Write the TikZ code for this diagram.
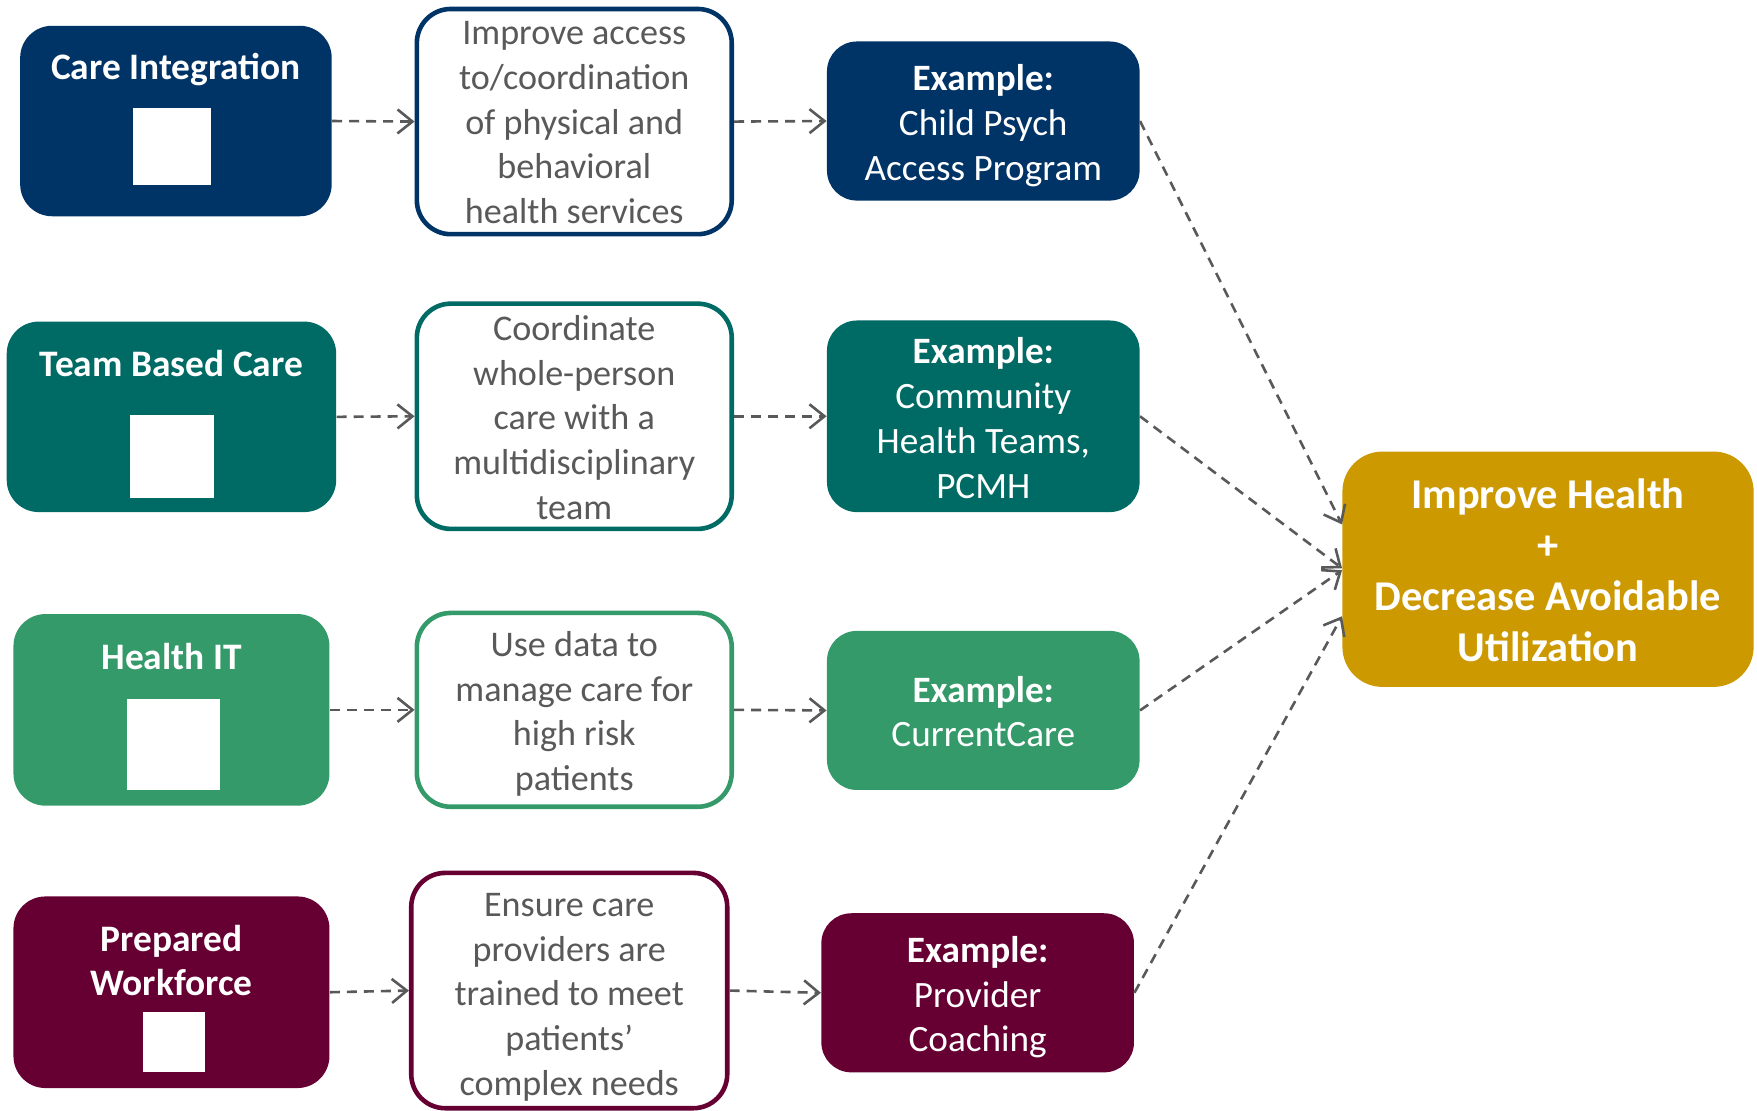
\documentclass[tikz,border=0pt]{standalone}
\usepackage{fontspec}
\setmainfont{Carlito}
\usetikzlibrary{arrows.meta,calc}
\definecolor{navy}{HTML}{003366}
\definecolor{tealc}{HTML}{006A64}
\definecolor{greenc}{HTML}{359A69}
\definecolor{maroonc}{HTML}{660033}
\definecolor{goldc}{HTML}{CC9900}
\definecolor{arrowgray}{HTML}{595959}
\definecolor{textgray}{HTML}{595959}
\def\pxu{0.56025pt}
\begin{document}
\begin{tikzpicture}[x=0.56025pt,y=-0.56025pt,
  catbox/.style={rounded corners=16pt, inner sep=0pt, draw=none},
  cattitle/.style={text=white, align=center, inner sep=0pt, font=\bfseries\fontsize{18.7}{21.9}\selectfont},
  sq/.style={fill=white, inner sep=0pt, draw=none},
  descbox/.style={rounded corners=17pt, line width=2.3pt, fill=white, inner sep=0pt},
  desctext/.style={text=textgray, align=center, inner sep=0pt, font=\fontsize{18.05}{22.3}\selectfont},
  exbox/.style={rounded corners=15pt, inner sep=0pt},
  extext/.style={text=white, align=center, inner sep=0pt, font=\fontsize{18.6}{22.4}\selectfont},
  goalbox/.style={rounded corners=20pt, inner sep=0pt, fill=goldc},
  goaltext/.style={text=white, align=center, inner sep=0pt, font=\bfseries\fontsize{21.2}{25.6}\selectfont},
  conn/.style={draw=arrowgray, line width=1.3pt, dash pattern=on 5pt off 3.5pt, -{Straight Barb[length=7.5pt,width=12pt,line width=1.3pt]}}
]
\useasboundingbox (0,0) rectangle (1568,991);

% Row 1
\node[catbox, fill=navy, minimum width=278*\pxu, minimum height=170*\pxu] (ci) at (157,108) {};
\node[cattitle] (cit) at (157,62) {Care Integration};
\node[sq, minimum width=69*\pxu, minimum height=69*\pxu] (cis) at (153.5,130.5) {};
\node[descbox, draw=navy, minimum width=281*\pxu, minimum height=201*\pxu] (d1) at (512.5,108.5) {};
\node[desctext] (d1t) at (512.5,109.5) {Improve access\\to/coordination\\of physical and\\behavioral\\health services};
\node[exbox, fill=navy, minimum width=279*\pxu, minimum height=142*\pxu] (e1) at (877.5,108) {};
\node[extext] (e1t) at (877.5,112) {\textbf{Example:}\\Child Psych\\Access Program};

% Row 2
\node[catbox, fill=tealc, minimum width=294*\pxu, minimum height=170*\pxu] (tb) at (153,372) {};
\node[cattitle] (tbt) at (153,324) {Team Based Care};
\node[sq, minimum width=75*\pxu, minimum height=74*\pxu] (tbs) at (153.5,407) {};
\node[descbox, draw=tealc, minimum width=281*\pxu, minimum height=201*\pxu] (d2) at (512.5,371.5) {};
\node[desctext] (d2t) at (512.5,372.5) {Coordinate\\whole-person\\care with a\\multidisciplinary\\team};
\node[exbox, fill=tealc, minimum width=279*\pxu, minimum height=171*\pxu] (e2) at (877.5,371.5) {};
\node[extext] (e2t) at (877.5,373) {\textbf{Example:}\\Community\\Health Teams,\\PCMH};

% Row 3
\node[catbox, fill=greenc, minimum width=282*\pxu, minimum height=171*\pxu] (hi) at (153,633.5) {};
\node[cattitle] (hit) at (153,586) {Health IT};
\node[sq, minimum width=83*\pxu, minimum height=81*\pxu] (his) at (154.5,664.5) {};
\node[descbox, draw=greenc, minimum width=281*\pxu, minimum height=173*\pxu] (d3) at (512.5,633.5) {};
\node[desctext] (d3t) at (512.5,637) {Use data to\\manage care for\\high risk\\patients};
\node[exbox, fill=greenc, minimum width=279*\pxu, minimum height=142*\pxu] (e3) at (877.5,634) {};
\node[extext] (e3t) at (877.5,635) {\textbf{Example:}\\CurrentCare};

% Row 4
\node[catbox, fill=maroonc, minimum width=282*\pxu, minimum height=171*\pxu] (pw) at (153,885.5) {};
\node[cattitle] (pwt) at (153,857.5) {Prepared\\Workforce};
\node[sq, minimum width=55*\pxu, minimum height=54*\pxu] (pws) at (155.5,930) {};
\node[descbox, draw=maroonc, minimum width=282*\pxu, minimum height=210*\pxu] (d4) at (508,884) {};
\node[desctext] (d4t) at (508,890) {Ensure care\\providers are\\trained to meet\\patients’\\complex needs};
\node[exbox, fill=maroonc, minimum width=279*\pxu, minimum height=142*\pxu] (e4) at (872.5,886) {};
\node[extext] (e4t) at (872.5,890) {\textbf{Example:}\\Provider\\Coaching};

% Goal
\node[goalbox, minimum width=367*\pxu, minimum height=210*\pxu] (g) at (1381.5,508) {};
\node[goaltext] (gt) at (1381.5,509) {Improve Health\\+\\Decrease Avoidable\\Utilization};

% Connectors
\draw[conn] (ci.east) -- (d1.west);
\draw[conn] (d1.east) -- (e1.west);
\draw[conn] (tb.east) -- (d2.west);
\draw[conn] (d2.east) -- (e2.west);
\draw[conn] (hi.east) -- (d3.west);
\draw[conn] (d3.east) -- (e3.west);
\draw[conn] (pw.east) -- (d4.west);
\draw[conn] (d4.east) -- (e4.west);
\draw[conn] (e1.east) -- ([yshift=22.4pt]g.west);
\draw[conn] (e2.east) -- ([yshift=0.5pt]g.west);
\draw[conn] (e3.east) -- ([yshift=-0.5pt]g.west);
\draw[conn] (e4.east) -- ([yshift=-23.5pt]g.west);
\end{tikzpicture}
\end{document}
